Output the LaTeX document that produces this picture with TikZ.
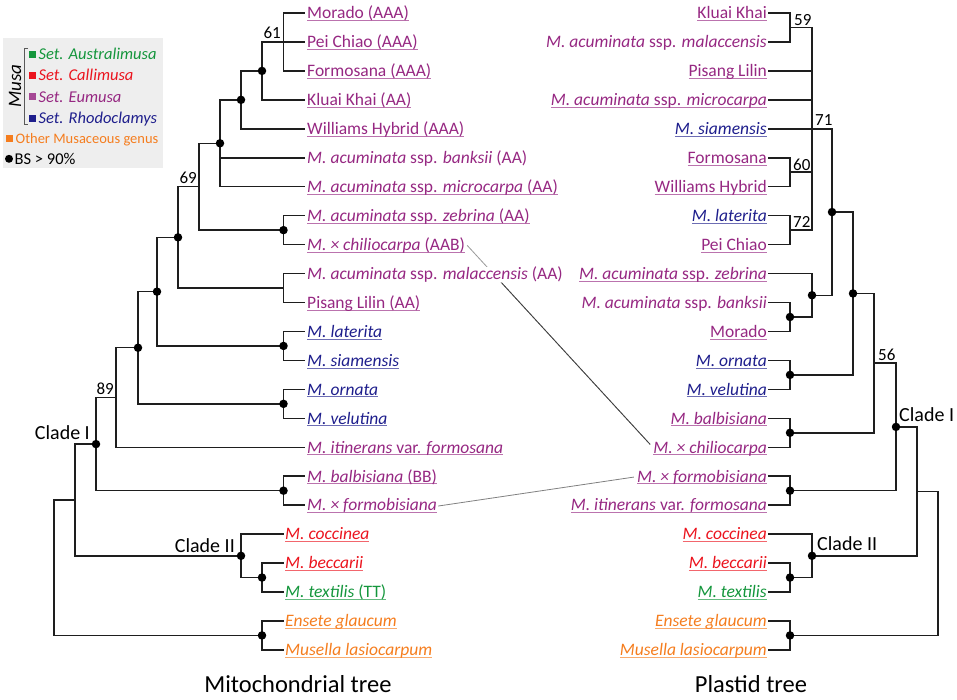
\documentclass[tikz,border=0pt]{standalone}
\usepackage{fontspec}
\setmainfont{Carlito}
\usetikzlibrary{calc}
\pgfdeclarelayer{bg}
\pgfsetlayers{bg,main}
\definecolor{eum}{RGB}{150,40,130}
\definecolor{rho}{RGB}{30,30,140}
\definecolor{cal}{RGB}{235,20,30}
\definecolor{aus}{RGB}{20,150,60}
\definecolor{oth}{RGB}{245,125,30}
\definecolor{legbg}{RGB}{238,238,238}
\definecolor{treeline}{RGB}{30,30,30}
\newsavebox\ulbox
\newcommand\myul[1]{\sbox\ulbox{#1}\rlap{{\color{.!65!white}\rule[-2.3pt]{\wd\ulbox}{1pt}}}\usebox\ulbox}
\newcommand\leaffont{\fontsize{17.5}{21}\selectfont}
\begin{document}
\begin{tikzpicture}[x=1pt,y=-1pt,
  tree/.style={line width=1.5pt, treeline},
  dot/.style={circle, fill=black, inner sep=0pt, minimum size=8.5pt},
  lab/.style={inner sep=0pt, font=\leaffont},
  llab/.style={lab, anchor=base west},
  rlab/.style={lab, anchor=base east},
  bsv/.style={inner sep=0pt, font=\fontsize{17}{20}\selectfont},
  clade/.style={inner sep=0pt, font=\fontsize{20}{24}\selectfont},
  ttl/.style={inner sep=0pt, font=\fontsize{24.5}{28}\selectfont, anchor=base},
  legt/.style={inner sep=0pt, font=\fontsize{16.5}{19}\selectfont, anchor=base west},
  sq/.style={inner sep=0pt, minimum size=7pt}
]
\useasboundingbox (0,0) rectangle (957,699);

% ---------------- legend ----------------
\fill[legbg] (3,38) rectangle (163,168);
\draw[line width=0.9pt, black!65] (28,48) -- (24,48) -- (24,124) -- (28,124);
\node[rotate=90, inner sep=0pt, font=\fontsize{19}{21}\selectfont\itshape] (musa) at (15,86) {Musa};
\node[sq, fill=aus] (sqa) at (32,54.2) {};
\node[legt, text=aus] (la) at (38.5,59.5) {\itshape Set. Australimusa};
\node[sq, fill=cal] (sqc) at (32,75.5) {};
\node[legt, text=cal] (lc) at (38.5,80.8) {\itshape Set. Callimusa};
\node[sq, fill=eum!85] (sqe) at (32,96.8) {};
\node[legt, text=eum] (le) at (38.5,102.1) {\itshape Set. Eumusa};
\node[sq, fill=rho] (sqr) at (32,118.1) {};
\node[legt, text=rho] (lr) at (38.5,123.4) {\itshape Set. Rhodoclamys};
\node[sq, fill=oth] (sqo) at (9.5,138) {};
\node[legt, text=oth, font=\fontsize{14.5}{17}\selectfont] (lo) at (15.5,143.3) {Other Musaceous genus};
\node[circle, fill=black, inner sep=0pt, minimum size=8pt] (ldot) at (9,158.8) {};
\node[legt, font=\fontsize{16.5}{19}\selectfont] (lbs) at (14.5,164.5) {BS > 90\%};

% ---------------- leaf tips ----------------
\foreach \i in {0,...,17} \coordinate (L\i) at (305,{13+28.95*\i});
\foreach \i in {18,...,22} \coordinate (L\i) at (283.5,{13+28.95*\i});
\foreach \i in {0,...,22} \coordinate (R\i) at (768,{13+28.95*\i});

% ---------------- left tree internal nodes ----------------
\coordinate (A61) at (283.5,41.95);
\coordinate (Ad1) at (262,70.9);
\coordinate (Ad2) at (241,99.85);
\coordinate (Ad3) at (220,143.275);
\coordinate (Azc) at (283.5,230.125);
\coordinate (A69) at (199,186.7);
\coordinate (Amp) at (283.5,288.025);
\coordinate (Ad4) at (178,237.36);
\coordinate (Als) at (283.5,345.925);
\coordinate (Ad5) at (157,291.64);
\coordinate (Aov) at (283.5,403.825);
\coordinate (Ad6) at (138,347.73);
\coordinate (A89) at (116,397.49);
\coordinate (Abf) at (283.5,490.675);
\coordinate (AcI) at (96,444.08);
\coordinate (Abt) at (262,577.525);
\coordinate (AcII) at (241,555.81);
\coordinate (A75) at (75,499.95);
\coordinate (Aem) at (262,635.425);
\coordinate (Aroot) at (54,567.69);

\draw[tree] (A61) |- (L0) (A61) |- (L1) (A61) |- (L2);
\draw[tree] (Ad1) |- (A61) (Ad1) |- (L3);
\draw[tree] (Ad2) |- (Ad1) (Ad2) |- (L4);
\draw[tree] (Ad3) |- (Ad2) (Ad3) |- (L5) (Ad3) |- (L6);
\draw[tree] (Azc) |- (L7) (Azc) |- (L8);
\draw[tree] (A69) |- (Ad3) (A69) |- (Azc);
\draw[tree] (Amp) |- (L9) (Amp) |- (L10);
\draw[tree] (Ad4) |- (A69) (Ad4) |- (Amp);
\draw[tree] (Als) |- (L11) (Als) |- (L12);
\draw[tree] (Ad5) |- (Ad4) (Ad5) |- (Als);
\draw[tree] (Aov) |- (L13) (Aov) |- (L14);
\draw[tree] (Ad6) |- (Ad5) (Ad6) |- (Aov);
\draw[tree] (A89) |- (Ad6) (A89) |- (L15);
\draw[tree] (Abf) |- (L16) (Abf) |- (L17);
\draw[tree] (AcI) |- (A89) (AcI) |- (Abf);
\draw[tree] (Abt) |- (L19) (Abt) |- (L20);
\draw[tree] (AcII) |- (L18) (AcII) |- (Abt);
\draw[tree] (A75) |- (AcI) (A75) |- (AcII);
\draw[tree] (Aem) |- (L21) (Aem) |- (L22);
\draw[tree] (Aroot) |- (A75) (Aroot) |- (Aem);

\foreach \n in {Ad1,Ad2,Ad3,Azc,Ad4,Ad5,Als,Ad6,Aov,AcI,Abf,AcII,Abt,Aem}
  \node[dot] (dot\n) at (\n) {};

% ---------------- right tree internal nodes ----------------
\coordinate (R59) at (790,27.475);
\coordinate (R60) at (790,172.225);
\coordinate (R72) at (790,230.125);
\coordinate (R71) at (812,128.8);
\coordinate (Rbm) at (790,316.975);
\coordinate (Rz) at (812,295.26);
\coordinate (Rd1) at (832,212.03);
\coordinate (Rov) at (790,374.875);
\coordinate (Rd2) at (853,293.45);
\coordinate (Rbc) at (790,432.775);
\coordinate (R56) at (874,363.11);
\coordinate (Rfi) at (790,490.675);
\coordinate (RcI) at (896,426.89);
\coordinate (Rbt) at (790,577.525);
\coordinate (RcII) at (812,555.81);
\coordinate (R917) at (917,491.35);
\coordinate (Rem) at (790,635.425);
\coordinate (Rroot) at (938,563.39);

\draw[tree] (R59) |- (R0) (R59) |- (R1);
\draw[tree] (R60) |- (R5) (R60) |- (R6);
\draw[tree] (R72) |- (R7) (R72) |- (R8);
\draw[tree] (R71) |- (R59) (R71) |- (R2) (R71) |- (R3) (R71) |- (R4) (R71) |- (R60) (R71) |- (R72);
\draw[tree] (Rbm) |- (R10) (Rbm) |- (R11);
\draw[tree] (Rz) |- (R9) (Rz) |- (Rbm);
\draw[tree] (Rd1) |- (R71) (Rd1) |- (Rz);
\draw[tree] (Rov) |- (R12) (Rov) |- (R13);
\draw[tree] (Rd2) |- (Rd1) (Rd2) |- (Rov);
\draw[tree] (Rbc) |- (R14) (Rbc) |- (R15);
\draw[tree] (R56) |- (Rd2) (R56) |- (Rbc);
\draw[tree] (Rfi) |- (R16) (Rfi) |- (R17);
\draw[tree] (RcI) |- (R56) (RcI) |- (Rfi);
\draw[tree] (Rbt) |- (R19) (Rbt) |- (R20);
\draw[tree] (RcII) |- (R18) (RcII) |- (Rbt);
\draw[tree] (R917) |- (RcI) (R917) |- (RcII);
\draw[tree] (Rem) |- (R21) (Rem) |- (R22);
\draw[tree] (Rroot) |- (R917) (Rroot) |- (Rem);

\foreach \n in {Rbm,Rz,Rd1,Rov,Rd2,Rbc,Rfi,RcI,Rbt,RcII,Rem}
  \node[dot] (dot\n) at (\n) {};

% ---------------- support values and clade names ----------------
\node[bsv, anchor=base east] (b61) at (281,38.5) {61};
\node[bsv, anchor=base east] (b69) at (197,183.5) {69};
\node[bsv, anchor=base east] (b89) at (114,394) {89};
\node[clade, anchor=base east] (cIl) at (90,439.5) {Clade I};
\node[clade, anchor=base east] (cIIl) at (235,552) {Clade II};
\node[bsv, anchor=base west] (b59) at (794,25) {59};
\node[bsv, anchor=base west] (b71) at (815,125.5) {71};
\node[bsv, anchor=base west] (b60) at (793,170) {60};
\node[bsv, anchor=base west] (b72) at (793,227.5) {72};
\node[bsv, anchor=base west] (b56) at (878,360) {56};
\node[clade, anchor=base west] (cIr) at (899,421.5) {Clade I};
\node[clade, anchor=base west] (cIIr) at (817,550) {Clade II};

% ---------------- left labels ----------------
\begin{scope}[every node/.append style={llab}]
\node[text=eum] (Lt0) at ([xshift=2pt,yshift=-5.8pt]L0) {\myul{Morado (AAA)}};
\node[text=eum] (Lt1) at ([xshift=2pt,yshift=-5.8pt]L1) {\myul{Pei Chiao (AAA)}};
\node[text=eum] (Lt2) at ([xshift=2pt,yshift=-5.8pt]L2) {\myul{Formosana (AAA)}};
\node[text=eum] (Lt3) at ([xshift=2pt,yshift=-5.8pt]L3) {\myul{Kluai Khai (AA)}};
\node[text=eum] (Lt4) at ([xshift=2pt,yshift=-5.8pt]L4) {\myul{Williams Hybrid (AAA)}};
\node[text=eum] (Lt5) at ([xshift=2pt,yshift=-5.8pt]L5) {\textit{M. acuminata} ssp. \textit{banksii} (AA)};
\node[text=eum] (Lt6) at ([xshift=2pt,yshift=-5.8pt]L6) {\myul{\textit{M. acuminata} ssp. \textit{microcarpa} (AA)}};
\node[text=eum] (Lt7) at ([xshift=2pt,yshift=-5.8pt]L7) {\myul{\textit{M. acuminata} ssp. \textit{zebrina} (AA)}};
\node[text=eum] (Lt8) at ([xshift=2pt,yshift=-5.8pt]L8) {\myul{\textit{M. × chiliocarpa} (AAB)}};
\node[text=eum, fill=white] (Lt9) at ([xshift=2pt,yshift=-5.8pt]L9) {\textit{M. acuminata} ssp. \textit{malaccensis} (AA)};
\node[text=eum] (Lt10) at ([xshift=2pt,yshift=-5.8pt]L10) {\myul{Pisang Lilin (AA)}};
\node[text=rho] (Lt11) at ([xshift=2pt,yshift=-5.8pt]L11) {\myul{\textit{M. laterita}}};
\node[text=rho] (Lt12) at ([xshift=2pt,yshift=-5.8pt]L12) {\myul{\textit{M. siamensis}}};
\node[text=rho] (Lt13) at ([xshift=2pt,yshift=-5.8pt]L13) {\myul{\textit{M. ornata}}};
\node[text=rho] (Lt14) at ([xshift=2pt,yshift=-5.8pt]L14) {\myul{\textit{M. velutina}}};
\node[text=eum] (Lt15) at ([xshift=2pt,yshift=-5.8pt]L15) {\myul{\textit{M. itinerans} var. \textit{formosana}}};
\node[text=eum] (Lt16) at ([xshift=2pt,yshift=-5.8pt]L16) {\myul{\textit{M. balbisiana} (BB)}};
\node[text=eum] (Lt17) at ([xshift=2pt,yshift=-5.8pt]L17) {\myul{\textit{M. × formobisiana}}};
\node[text=cal] (Lt18) at ([xshift=1.5pt,yshift=-5.8pt]L18) {\myul{\textit{M. coccinea}}};
\node[text=cal] (Lt19) at ([xshift=1.5pt,yshift=-5.8pt]L19) {\myul{\textit{M. beccarii}}};
\node[text=aus] (Lt20) at ([xshift=1.5pt,yshift=-5.8pt]L20) {\myul{\textit{M. textilis} (TT)}};
\node[text=oth] (Lt21) at ([xshift=1.5pt,yshift=-5.8pt]L21) {\myul{\textit{Ensete glaucum}}};
\node[text=oth] (Lt22) at ([xshift=1.5pt,yshift=-5.8pt]L22) {\myul{\textit{Musella lasiocarpum}}};
\end{scope}

% ---------------- right labels ----------------
\begin{scope}[every node/.append style={rlab}]
\node[text=eum] (Rt0) at ([xshift=-1pt,yshift=-5.8pt]R0) {\myul{Kluai Khai}};
\node[text=eum] (Rt1) at ([xshift=-1pt,yshift=-5.8pt]R1) {\textit{M. acuminata} ssp. \textit{malaccensis}};
\node[text=eum] (Rt2) at ([xshift=-1pt,yshift=-5.8pt]R2) {\myul{Pisang Lilin}};
\node[text=eum] (Rt3) at ([xshift=-1pt,yshift=-5.8pt]R3) {\myul{\textit{M. acuminata} ssp. \textit{microcarpa}}};
\node[text=rho] (Rt4) at ([xshift=-1pt,yshift=-5.8pt]R4) {\myul{\textit{M. siamensis}}};
\node[text=eum] (Rt5) at ([xshift=-1pt,yshift=-5.8pt]R5) {\myul{Formosana}};
\node[text=eum] (Rt6) at ([xshift=-1pt,yshift=-5.8pt]R6) {\myul{Williams Hybrid}};
\node[text=rho] (Rt7) at ([xshift=-1pt,yshift=-5.8pt]R7) {\myul{\textit{M. laterita}}};
\node[text=eum] (Rt8) at ([xshift=-1pt,yshift=-5.8pt]R8) {\myul{Pei Chiao}};
\node[text=eum] (Rt9) at ([xshift=-1pt,yshift=-5.8pt]R9) {\myul{\textit{M. acuminata} ssp. \textit{zebrina}}};
\node[text=eum] (Rt10) at ([xshift=-1pt,yshift=-5.8pt]R10) {\textit{M. acuminata} ssp. \textit{banksii}};
\node[text=eum] (Rt11) at ([xshift=-1pt,yshift=-5.8pt]R11) {\myul{Morado}};
\node[text=rho] (Rt12) at ([xshift=-1pt,yshift=-5.8pt]R12) {\myul{\textit{M. ornata}}};
\node[text=rho] (Rt13) at ([xshift=-1pt,yshift=-5.8pt]R13) {\myul{\textit{M. velutina}}};
\node[text=eum] (Rt14) at ([xshift=-1pt,yshift=-5.8pt]R14) {\myul{\textit{M. balbisiana}}};
\node[text=eum] (Rt15) at ([xshift=-1pt,yshift=-5.8pt]R15) {\myul{\textit{M. × chiliocarpa}}};
\node[text=eum] (Rt16) at ([xshift=-1pt,yshift=-5.8pt]R16) {\myul{\textit{M. × formobisiana}}};
\node[text=eum] (Rt17) at ([xshift=-1pt,yshift=-5.8pt]R17) {\myul{\textit{M. itinerans} var. \textit{formosana}}};
\node[text=cal] (Rt18) at ([xshift=-1pt,yshift=-5.8pt]R18) {\myul{\textit{M. coccinea}}};
\node[text=cal] (Rt19) at ([xshift=-1pt,yshift=-5.8pt]R19) {\myul{\textit{M. beccarii}}};
\node[text=aus] (Rt20) at ([xshift=-1pt,yshift=-5.8pt]R20) {\myul{\textit{M. textilis}}};
\node[text=oth] (Rt21) at ([xshift=-1pt,yshift=-5.8pt]R21) {\myul{\textit{Ensete glaucum}}};
\node[text=oth] (Rt22) at ([xshift=-1pt,yshift=-5.8pt]R22) {\myul{\textit{Musella lasiocarpum}}};
\end{scope}

% ---------------- cross links ----------------
\coordinate (chA) at ([xshift=2pt]Lt8.east);
\coordinate (chB) at ([xshift=-3pt,yshift=4pt]Rt15.west);
\coordinate (fbA) at ([xshift=1pt]Lt17.east);
\coordinate (fbB) at ([xshift=-3pt]Rt16.west);
\begin{pgfonlayer}{bg}
\draw[line width=0.8pt, black!40] (chA) -- (chB);
\draw[line width=0.8pt, black!75] ($(chA)!0.19!(chB)$) -- (chB);
\draw[line width=0.8pt, black!50] (fbA) -- (fbB);
\end{pgfonlayer}

% ---------------- titles ----------------
\node[ttl] (t1) at (298,692.5) {Mitochondrial tree};
\node[ttl] (t2) at (751,692.5) {Plastid tree};
\end{tikzpicture}
\end{document}
